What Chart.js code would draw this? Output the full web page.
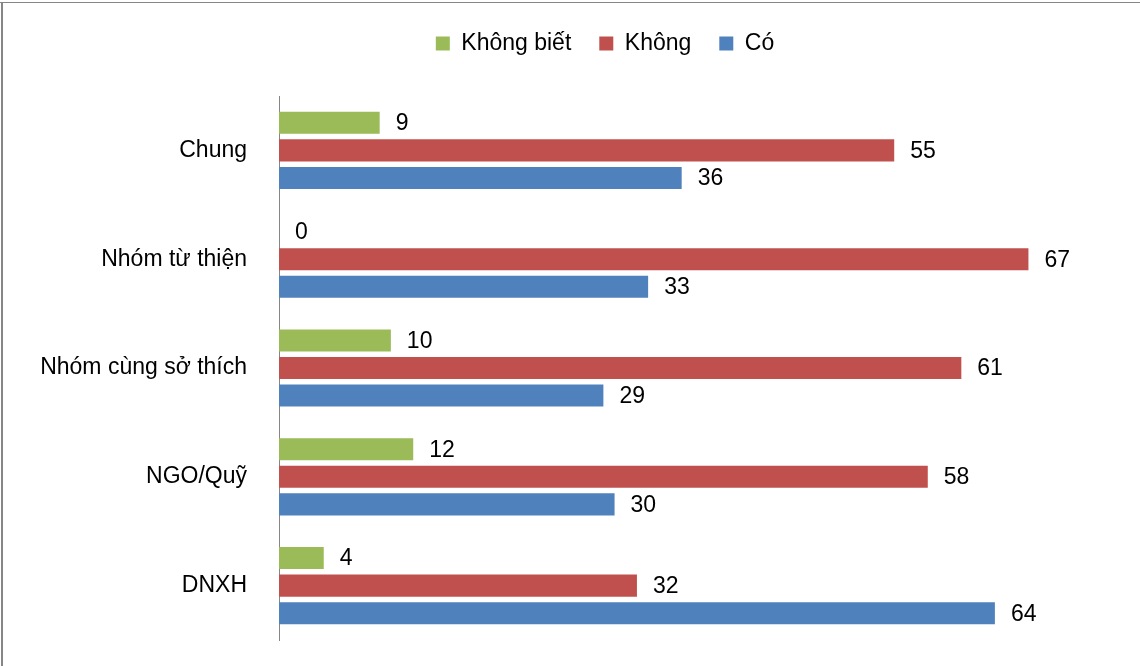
<!DOCTYPE html>
<html>
<head>
<meta charset="utf-8">
<script src="https://cdn.jsdelivr.net/npm/chart.js@4/dist/chart.umd.min.js"></script>
<style>
  html, body { margin: 0; padding: 0; background: #fff; }
  #wrap { position: relative; width: 1140px; height: 666px; }
  #edgeTop { position: absolute; left: 0; top: 2px; width: 1140px; height: 1px; background: #868686; }
  #edgeLeft { position: absolute; left: 1px; top: 2px; width: 2px; height: 664px; background: #868686; }
</style>
</head>
<body>
<div id="wrap">
  <canvas id="myChart" width="1140" height="666"></canvas>
  <div id="edgeTop"></div>
  <div id="edgeLeft"></div>
</div>
<script>
const categories = ['Chung', 'Nhóm từ thiện', 'Nhóm cùng sở thích', 'NGO/Quỹ', 'DNXH'];
const khongBiet = [9, 0, 10, 12, 4];
const khong = [55, 67, 61, 58, 32];
const co = [36, 33, 29, 30, 64];

const FONT = '"Liberation Sans", Arial, sans-serif';

// value labels at the end of each bar
const valueLabels = {
  id: 'valueLabels',
  afterDatasetsDraw(chart) {
    const ctx = chart.ctx;
    ctx.save();
    ctx.font = '23px ' + FONT;
    ctx.fillStyle = '#000';
    ctx.textAlign = 'left';
    ctx.textBaseline = 'middle';
    chart.data.datasets.forEach((ds, i) => {
      const meta = chart.getDatasetMeta(i);
      meta.data.forEach((bar, j) => {
        ctx.fillText(String(ds.data[j]), bar.x + 16, bar.y + 1);
      });
    });
    ctx.restore();
  }
};

// extra room under the legend, and legend centred over the whole page
const legendGap = {
  id: 'legendGap',
  beforeInit(chart) {
    const fit = chart.legend.fit;
    chart.legend.fit = function () {
      fit.bind(chart.legend)();
      this.height += 31;
    };
  },
  afterLayout(chart) {
    chart.legend.left += 74;
    chart.legend.right += 74;
  }
};

const ctx = document.getElementById('myChart').getContext('2d');
new Chart(ctx, {
  type: 'bar',
  data: {
    labels: categories,
    datasets: [
      { label: 'Không biết', data: khongBiet, backgroundColor: '#9BBB59' },
      { label: 'Không', data: khong, backgroundColor: '#C0504D' },
      { label: 'Có', data: co, backgroundColor: '#4F81BD' }
    ]
  },
  options: {
    indexAxis: 'y',
    responsive: false,
    animation: false,
    layout: { padding: { top: 4, right: 78, bottom: 26, left: 0 } },
    datasets: {
      bar: { categoryPercentage: 0.76, barPercentage: 0.8 }
    },
    scales: {
      x: {
        display: false,
        min: 0,
        max: 70
      },
      y: {
        afterFit: (scale) => {
          scale.width = 279;
          scale.paddingTop = 0;
          scale.paddingBottom = 0;
        },
        grid: { display: false, drawTicks: false },
        border: { display: true, color: '#868686', width: 1 },
        ticks: {
          padding: 32,
          color: '#000',
          font: { family: FONT, size: 23 }
        }
      }
    },
    plugins: {
      legend: {
        position: 'top',
        labels: {
          boxWidth: 14,
          boxHeight: 14,
          padding: 28,
          color: '#000',
          font: { family: FONT, size: 23 }
        }
      },
      tooltip: { enabled: false }
    }
  },
  plugins: [valueLabels, legendGap]
});
</script>
</body>
</html>
